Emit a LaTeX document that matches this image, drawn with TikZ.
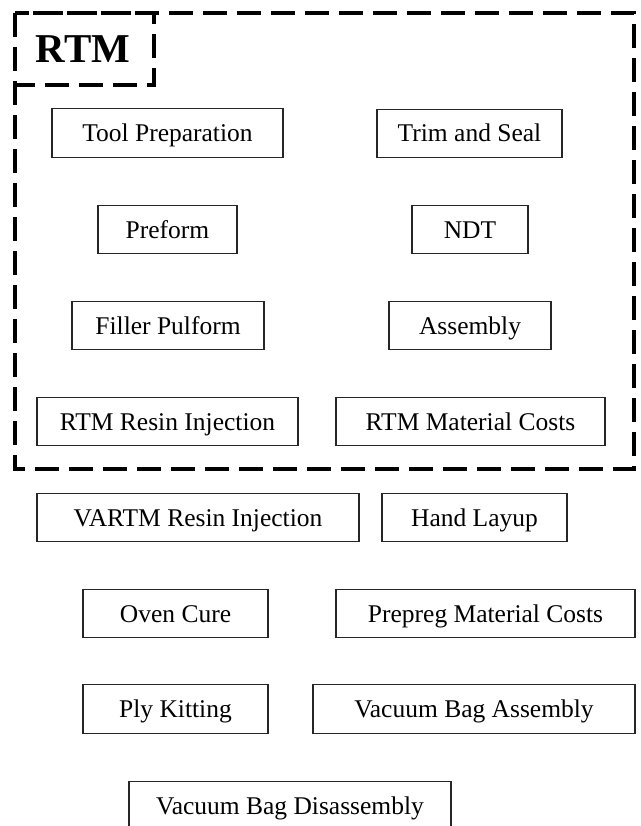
\documentclass[tikz,border=0pt]{standalone}
\usepackage{fontspec}
\setmainfont{Liberation Serif}
\begin{document}
\begin{tikzpicture}[x=1pt,y=-1pt,
  box/.style={draw=black!85, line width=1.3pt, inner sep=0pt, minimum height=48.5pt,
    text height=17pt, text depth=0pt,
    font=\fontsize{25.5}{30}\selectfont, text=black},
  dashframe/.style={draw=black, line width=4pt, dash pattern=on 24pt off 10pt}]
\useasboundingbox (0,0) rectangle (640,826);
\clip (0,0) rectangle (640,826);
% dashed group frame and its label tab
\draw[dashframe] (15,13) rectangle (634,469);
\draw[dashframe] (15,13) rectangle (154,85);
\node[inner sep=0pt, font=\fontsize{41}{46}\selectfont\bfseries] (rtmlabel) at (83,49) {RTM};
% boxes
\node[box, minimum width=231pt] (tool) at (167.5,133) {Tool Preparation};
\node[box, minimum width=185pt] (trim) at (469.5,133.5) {Trim and Seal};
\node[box, minimum width=139pt] (preform) at (167.5,229.5) {Preform};
\node[box, minimum width=116pt] (ndt) at (470,229.5) {NDT};
\node[box, minimum width=192pt] (filler) at (168,325.5) {Filler Pulform};
\node[box, minimum width=162pt] (assembly) at (470,325.5) {Assembly};
\node[box, minimum width=261pt] (rtmresin) at (167.5,421.5) {RTM Resin Injection};
\node[box, minimum width=269pt] (rtmmat) at (470.5,421.5) {RTM Material Costs};
\node[box, minimum width=322pt] (vartm) at (198,517.5) {VARTM Resin Injection};
\node[box, minimum width=185pt] (hand) at (474.5,517.5) {Hand Layup};
\node[box, minimum width=185pt] (oven) at (175.5,613.5) {Oven Cure};
\node[box, minimum width=299pt] (prepreg) at (485.5,613.5) {Prepreg Material Costs};
\node[box, minimum width=185pt] (ply) at (175.5,709) {Ply Kitting};
\node[box, minimum width=322pt] (vba) at (474,709) {Vacuum Bag Assembly};
\node[box, minimum width=322pt] (vbd) at (290,806) {Vacuum Bag Disassembly};
\end{tikzpicture}
\end{document}
